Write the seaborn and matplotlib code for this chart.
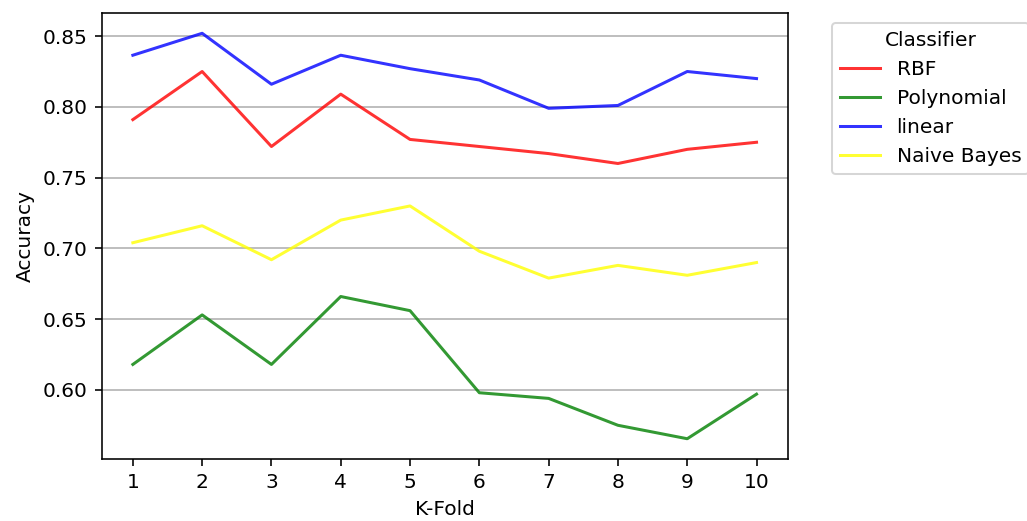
import matplotlib
matplotlib.use("Agg")
import matplotlib.pyplot as plt
import seaborn as sns
import pandas as pd

folds = [1, 2, 3, 4, 5, 6, 7, 8, 9, 10]
rbf = [0.791, 0.825, 0.772, 0.809, 0.777, 0.772, 0.767, 0.760, 0.770, 0.775]
polynomial = [0.618, 0.653, 0.618, 0.666, 0.656, 0.598, 0.594, 0.575, 0.5655, 0.597]
linear = [0.8365, 0.852, 0.816, 0.8365, 0.827, 0.819, 0.799, 0.801, 0.825, 0.820]
naive_bayes = [0.704, 0.716, 0.692, 0.720, 0.730, 0.698, 0.679, 0.688, 0.681, 0.690]

names = ["RBF", "Polynomial", "linear", "Naive Bayes"]
colors = ["red", "green", "blue", "yellow"]

rows = []
for name, vals in zip(names, [rbf, polynomial, linear, naive_bayes]):
    for k, v in zip(folds, vals):
        rows.append({"K-Fold": k, "Accuracy": v, "Classifier": name})
df = pd.DataFrame(rows)

dpi = 145
fig = plt.figure(figsize=(1027 / dpi, 521 / dpi), dpi=dpi)
ax = fig.add_axes([0.099, 0.119, 0.668, 0.856])

sns.lineplot(data=df, x="K-Fold", y="Accuracy", hue="Classifier",
             palette=dict(zip(names, colors)), alpha=0.8, ax=ax)

ax.set_xticks(folds)
ax.yaxis.grid(True)
ax.set_axisbelow(True)
ax.legend(title="Classifier", bbox_to_anchor=(1.05, 1), loc="upper left")

fig.savefig("out.png", dpi=dpi)
